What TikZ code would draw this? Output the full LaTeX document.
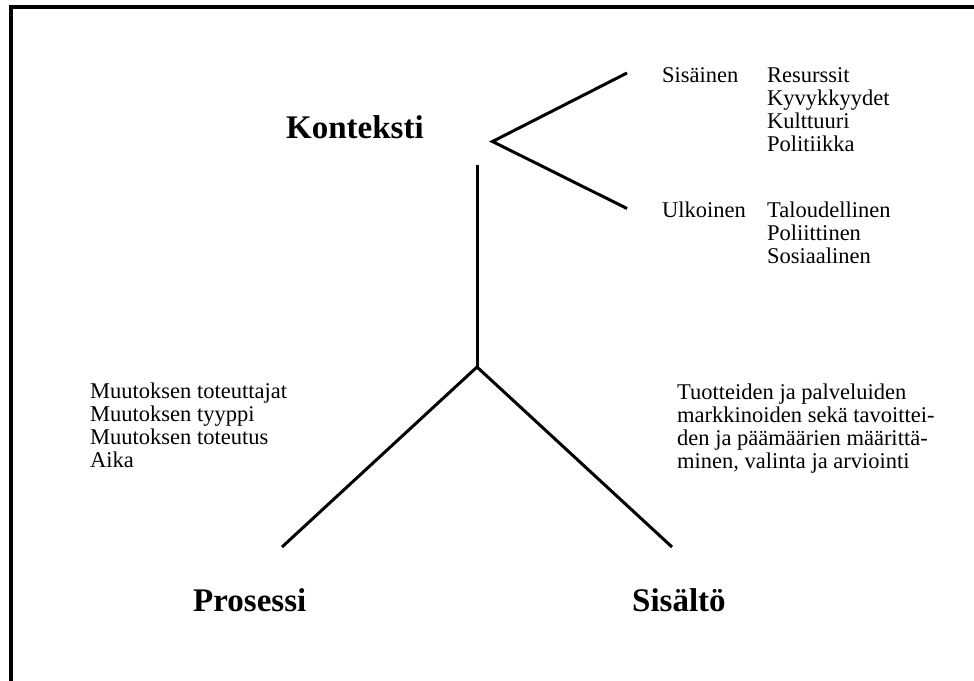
\documentclass[tikz,border=0pt]{standalone}
\usepackage{fontspec}
\setmainfont{Liberation Serif}
\begin{document}
\begin{tikzpicture}[x=1pt,y=-1pt,
  branch/.style={line width=3pt,line cap=butt},
  title/.style={font=\fontsize{33}{38}\selectfont\bfseries,inner sep=0pt,anchor=base west},
  item/.style={font=\fontsize{22.5}{23.3}\selectfont,inner sep=0pt,anchor=base west,align=left}]
  \useasboundingbox (0,0) rectangle (974,680);
  \clip (0,0) rectangle (974,680);
  % outer frame (runs past the right and bottom edges)
  \draw[line width=4pt] (11,6.5) rectangle (1000,720);

  % headings
  \node[title] (kont) at (286,138) {Konteksti};
  \node[title] (pros) at (193,611) {Prosessi};
  \node[title] (sis)  at (632,611) {Sisältö};

  % context items (multi-line nodes are placed by the baseline of their last line)
  \node[item] (sisainen) at (662,82) {Sisäinen};
  \node[item] (sislist)  at (767,151.9) {Resurssit\\Kyvykkyydet\\Kulttuuri\\Politiikka};
  \node[item] (ulkoinen) at (662,217) {Ulkoinen};
  \node[item] (ulklist)  at (767,263.6) {Taloudellinen\\Poliittinen\\Sosiaalinen};

  % process and content items
  \node[item] (proslist) at (90,467.9) {Muutoksen toteuttajat\\Muutoksen tyyppi\\Muutoksen toteutus\\Aika};
  \node[item] (sislist2) at (677,468.9) {Tuotteiden ja palveluiden\\markkinoiden sekä tavoittei-\\den ja päämäärien määrittä-\\minen, valinta ja arviointi};

  % branch points
  \coordinate (vertex) at (492.5,141.5);
  \coordinate (upper)  at (627,73);
  \coordinate (lower)  at (627,208.5);
  \coordinate (stem)   at (477,165);
  \coordinate (hub)    at (477,367);
  \coordinate (left)   at (282,547);
  \coordinate (right)  at (672,547);

  \draw[branch] (upper) -- (vertex) -- (lower);
  \draw[branch] (stem) -- (hub);
  \draw[branch] (left) -- (hub) -- (right);
\end{tikzpicture}
\end{document}
